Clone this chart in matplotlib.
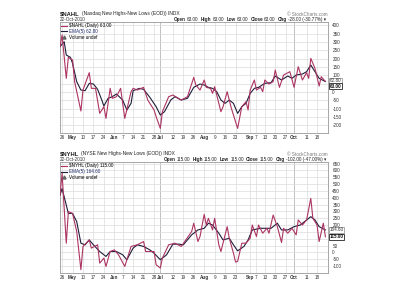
import matplotlib
matplotlib.use('Agg')
import matplotlib.pyplot as plt
from matplotlib.lines import Line2D

plt.rcParams['font.family'] = ['Liberation Sans', 'DejaVu Sans']

# x axis = trading day index, 23-Apr-2010 (0) .. 22-Oct-2010 (127)
tick_pos = [1, 6, 11, 16, 21, 26, 30, 35, 40, 45, 48, 54, 59, 64, 69, 74, 79, 84,
            91, 94, 98, 103, 108, 112, 118, 123]
tick_lbl = ['26', 'May', '10', '17', '24', 'Jun', '7', '14', '21', '28', 'Jul', '12',
            '19', '26', 'Aug', '9', '16', '23', 'Sep', '7', '13', '20', '27', 'Oct',
            '11', '18']
months = ['May', 'Jun', 'Jul', 'Aug', 'Sep', 'Oct']
quarter_lbl = ['Jul', 'Oct']

# $NAHL daily
nahl_day = [0, 1, 3, 4, 6, 7, 10, 11, 14, 15, 17, 19, 21, 22, 24, 25, 27, 29, 31, 34,
            35, 37, 40, 42, 45, 46, 48, 49, 52, 54, 58, 61, 64, 65, 67, 69, 70, 72, 73,
            74, 77, 78, 80, 82, 85, 87, 89, 90, 91, 93, 94, 96, 97, 98, 100, 102, 103,
            105, 107, 110, 112, 114, 116, 118, 119, 120, 122, 124, 125, 127]
nahl_val = [272, 342, 82, 208, 192, 62, -114, 12, 116, 22, 22, -128, -88, -158, 22, -38,
            -28, 22, -158, 2, 22, 12, 28, -48, -108, -148, -218, -118, -28, -18, -48,
            -28, 88, 42, 12, 72, 28, 22, -8, 32, -118, -88, 2, -98, -218, -88, -58,
            -108, 12, 72, 12, 28, 2, 72, 48, 62, 132, 28, 102, 122, 28, 152, 72, 116,
            82, 202, 142, 36, 92, 63]
# $NAHL EMA(5)
nahl_ema_day = [0, 2, 3, 5, 6, 8, 10, 12, 14, 16, 18, 20, 21, 23, 25, 27, 30, 32, 34, 35,
                38, 40, 43, 46, 48, 50, 53, 55, 58, 61, 64, 67, 69, 71, 73, 75, 77, 79,
                81, 83, 85, 87, 89, 91, 93, 95, 98, 101, 103, 106, 109, 111, 113, 116,
                118, 120, 122, 124, 127]
nahl_ema_val = [272, 302, 222, 208, 172, 62, 12, 8, 52, 48, 16, -48, -84, -38, -28, -12,
                -48, -108, -68, 8, 22, 16, -32, -88, -138, -118, -48, -28, -48, -38, 28,
                48, 42, 28, 22, 2, -48, -68, -48, -68, -128, -88, -68, -8, 22, 28, 52, 56,
                96, 72, 96, 82, 102, 108, 122, 162, 122, 82, 63]

# $NYHL daily
nyhl_day = [0, 1, 3, 4, 6, 8, 10, 11, 14, 15, 18, 19, 21, 22, 24, 26, 28, 31, 34, 37,
            40, 41, 45, 46, 48, 49, 52, 55, 58, 63, 64, 66, 67, 69, 70, 71, 73, 74, 76,
            77, 80, 81, 83, 84, 85, 87, 89, 91, 92, 94, 95, 97, 99, 100, 102, 104, 106,
            107, 109, 111, 113, 114, 116, 118, 120, 121, 123, 124, 126, 127]
nyhl_val = [420, 580, 68, 299, 286, 153, -126, 44, 92, 32, 56, -78, -41, -102, 7, 19,
            -17, -102, 44, 56, 80, 7, 7, -90, -114, -41, 56, 68, 44, 153, 214, 80, 117,
            279, 201, 250, 165, 250, 56, 7, 189, 104, -5, -70, -65, 68, 68, 104, 201,
            117, 201, 141, 177, 141, 274, 189, 73, 177, 141, 177, 129, 238, 201, 238,
            396, 250, 201, 80, 214, 115]
# $NYHL EMA(5)
nyhl_ema_day = [0, 1, 4, 6, 8, 10, 12, 14, 16, 19, 22, 24, 27, 30, 32, 35, 37, 40, 43,
                45, 48, 51, 54, 57, 59, 63, 66, 69, 71, 73, 76, 78, 81, 83, 85, 88, 90,
                92, 96, 99, 101, 104, 106, 109, 112, 115, 117, 120, 122, 124, 127]
nyhl_ema_val = [420, 468, 286, 286, 226, 68, 56, 92, 56, 7, -29, 7, 7, -17, -53, 32, 56,
                44, 19, -5, -53, -17, 61, 61, 56, 129, 165, 177, 214, 201, 141, 92, 104,
                56, 12, 44, 92, 165, 177, 177, 177, 214, 165, 165, 189, 201, 226, 262,
                238, 189, 165]

RED = '#ad3462'
DARK = '#1e1e3c'
FS = 3.3

W, H = 400, 300
fig = plt.figure(figsize=(4, 3), dpi=100)
fig.patch.set_facecolor('white')


def text_run(x, y, parts, align='left'):
    r = fig.canvas.get_renderer()
    items = []
    for s, size, bold, gap in parts:
        t = fig.text(0, y, s, fontsize=size, fontweight='bold' if bold else 'normal',
                     va='center', color='#222222')
        w = t.get_window_extent(renderer=r).width / W
        items.append((t, w, gap / W))
    total = sum(w + g for _, w, g in items)
    cx = x - total if align == 'right' else x
    for t, w, g in items:
        t.set_x(cx)
        cx += w + g


def panel(rect, sym, name, day, val, eday, eval_, yticks, hidden, ylim, close, ema,
          chg, top_px, ema_off, close_off):
    ax = fig.add_axes(rect)
    ax.set_xlim(0, 128)
    ax.set_ylim(*ylim)
    for p, l in zip(tick_pos, tick_lbl):
        c = '#a8a8a8' if l in quarter_lbl else '#dcdcdc'
        ax.axvline(p, color=c, lw=0.5, zorder=0)
    for v in yticks:
        ax.axhline(v, color='#dcdcdc', lw=0.5, zorder=0)
    ax.plot(eday, eval_, color=DARK, lw=0.8, zorder=3)
    ax.plot(day, val, color=RED, lw=0.8, zorder=4)

    ax.set_xticks(tick_pos)
    ax.set_xticklabels(tick_lbl)
    for t in ax.get_xticklabels():
        t.set_fontsize(FS)
        if t.get_text() in months:
            t.set_fontweight('bold')
    ax.set_yticks(yticks)
    ax.set_yticklabels(['' if v in hidden else str(v) for v in yticks])
    ax.yaxis.tick_right()
    ax.tick_params(axis='both', length=0, labelsize=FS, colors='#333333')
    ax.tick_params(axis='x', pad=2)
    ax.tick_params(axis='y', pad=3.5)
    for s in ax.spines.values():
        s.set_color('#999999')
        s.set_linewidth(0.6)

    # header
    y1 = 1 - top_px / H
    y2 = 1 - (top_px + 5.3) / H
    text_run(rect[0], y1, [(sym, 4.2, True, 2), (name, 3.5, False, 0)])
    fig.text(rect[0], y2, '22-Oct-2010', fontsize=FS, va='center', color='#333333')
    fig.text(rect[0] + rect[2], y1, '\u00a9 StockCharts.com', fontsize=FS,
             va='center', ha='right', color='#777777')
    text_run(rect[0] + rect[2], y2,
             [('Open', FS, True, 1), (close, FS, False, 2.5),
              ('High', FS, True, 1), (close, FS, False, 2.5),
              ('Low', FS, True, 1), (close, FS, False, 2.5),
              ('Close', FS, True, 1), (close, FS, False, 2.5),
              ('Chg', FS, True, 1), (chg + ' \u25be', FS, False, 1)], align='right')

    handles = [Line2D([], [], color=RED, lw=0.8),
               Line2D([], [], color=DARK, lw=0.8),
               Line2D([], [], color='#666666', marker='^', ms=2.2, lw=0)]
    labels = [sym + ' (Daily) ' + close, 'EMA(5) ' + ema, 'Volume undef']
    leg = ax.legend(handles, labels, loc='upper left', fontsize=FS, frameon=False,
                    handlelength=1.3, handletextpad=0.5, labelspacing=0.15,
                    borderaxespad=0.15, borderpad=0.1)
    leg.get_texts()[1].set_color('#1e2a6a')

    # last value boxes
    ax.annotate(ema, xy=(1.0, float(ema)), xycoords=('axes fraction', 'data'),
                xytext=(1.5, ema_off), textcoords='offset points', fontsize=FS,
                va='center', ha='left', color='#333333', annotation_clip=False,
                bbox=dict(boxstyle='square,pad=0.15', fc='white', ec='#888888', lw=0.5))
    ax.annotate(close, xy=(1.0, float(close)), xycoords=('axes fraction', 'data'),
                xytext=(1.5, close_off), textcoords='offset points', fontsize=FS,
                fontweight='bold', va='center', ha='left', color='#111111',
                annotation_clip=False,
                bbox=dict(boxstyle='square,pad=0.15', fc='white', ec='#222222', lw=0.6))
    return ax


panel([60 / W, 1 - 132.7 / H, 267.5 / W, 110.7 / H], '$NAHL',
      '(Nasdaq New Highs-New Lows (EOD)) INDX', nahl_day, nahl_val, nahl_ema_day,
      nahl_ema_val, list(range(-200, 401, 50)), [50], (-244, 420), '63.00', '62.80',
      '-28.00 (-30.77%)', 14, 0.6, -3.4)
panel([60 / W, 1 - 272.7 / H, 267.5 / W, 110.4 / H], '$NYHL',
      '(NYSE New Highs-New Lows (EOD)) INDX', nyhl_day, nyhl_val, nyhl_ema_day,
      nyhl_ema_val, list(range(-100, 651, 50)), [100, 150], (-148, 660), '115.00',
      '164.60', '-102.00 (-47.00%)', 154, 0.0, 0.0)

fig.savefig('out.png', dpi=100, facecolor='white')
